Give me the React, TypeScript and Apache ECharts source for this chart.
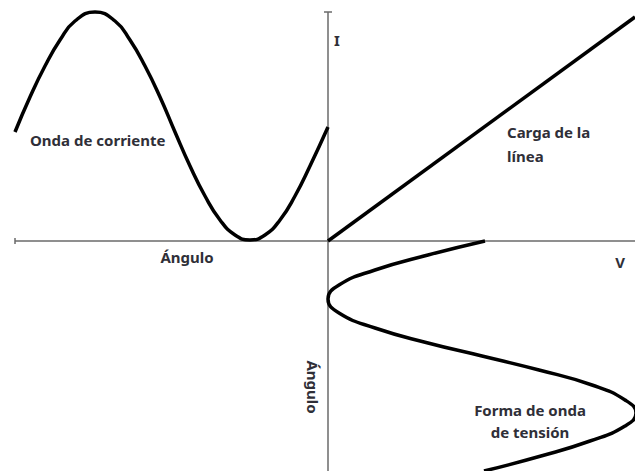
import { useEffect, useRef } from "react";
import * as echarts from "echarts";

// Current waveform I(angle), plotted to the left of the origin
const currentWave: [number, number][] = [
  [-313, 109], [-298, 144], [-283, 175], [-268, 201], [-253, 220],
  [-233, 229], [-213, 220], [-198, 201], [-183, 175], [-168, 144],
  [-153, 109], [-138, 75], [-123, 45], [-108, 21], [-93, 6],
  [-78, 1], [-63, 6], [-48, 21], [-33, 45], [-18, 75], [0, 114],
];

// Line load characteristic I = k·V
const loadLine: [number, number][] = [
  [0, 0], [307, 224],
];

// Voltage waveform V(angle), plotted below the origin
const voltageWave: [number, number][] = [
  [157, 0], [100, -14], [47, -29], [11, -44], [0, -58], [11, -72],
  [47, -87], [100, -102], [154, -115], [211, -129], [264, -144],
  [297, -159], [308, -172], [297, -185], [262, -200], [213, -215],
  [156, -230],
];

// Axis lines and end ticks
const horizontalAxis: [number, number][] = [[-313, 0], [307, 0]];
const verticalAxis: [number, number][] = [[0, 229], [0, -232]];
const leftTick: [number, number][] = [[-313, 3], [-313, -3]];
const topTick: [number, number][] = [[-4, 229], [4, 229]];

const W = 635;
const H = 471;
const TEXT = "#2f2f38";
const FONT = "bold 15px 'Noto Sans'";

export default function App() {
  const ref = useRef<HTMLDivElement>(null);

  useEffect(() => {
    if (!ref.current) return;
    const chart = echarts.init(ref.current, undefined, { renderer: "svg" });

    const axisStyle = { color: "#6a6a6a", width: 1.5 };
    const curveStyle = { color: "#000", width: 3.5 };
    const lineSeries = (data: [number, number][], style: any, z = 2) => ({
      type: "line",
      data,
      showSymbol: false,
      smooth: false,
      lineStyle: style,
      z,
      silent: true,
    });

    const label = (text: string, x: number, y: number, align = "left", rotation = 0) => ({
      type: "text",
      x,
      y,
      rotation,
      style: {
        text,
        font: FONT,
        fill: TEXT,
        align,
        verticalAlign: "middle",
      },
      z: 10,
    });

    chart.setOption({
      animation: false,
      backgroundColor: "#fff",
      grid: { left: 0, right: 0, top: 0, bottom: 0 },
      xAxis: { type: "value", min: -328, max: 307, show: false },
      yAxis: { type: "value", min: -230, max: 241, show: false },
      series: [
        lineSeries(horizontalAxis, axisStyle, 1),
        lineSeries(verticalAxis, axisStyle, 1),
        lineSeries(leftTick, axisStyle, 1),
        lineSeries(topTick, axisStyle, 1),
        { ...lineSeries(currentWave, curveStyle), smooth: true },
        lineSeries(loadLine, curveStyle),
        { ...lineSeries(voltageWave, curveStyle), smooth: true },
      ],
      graphic: [
        label("Onda de corriente", 30, 140),
        label("I", 334, 40),
        label("Carga de la", 507, 132),
        label("línea", 507, 156),
        label("Ángulo", 187, 257, "center"),
        label("V", 620, 262, "center"),
        label("Ángulo", 313, 387, "center", -Math.PI / 2),
        label("Forma de onda", 530, 410, "center"),
        label("de tensión", 530, 432, "center"),
      ],
    });

    return () => chart.dispose();
  }, []);

  return (
    <div
      ref={ref}
      style={{ position: "absolute", left: 0, top: 0, width: W, height: H, background: "#fff" }}
    />
  );
}
